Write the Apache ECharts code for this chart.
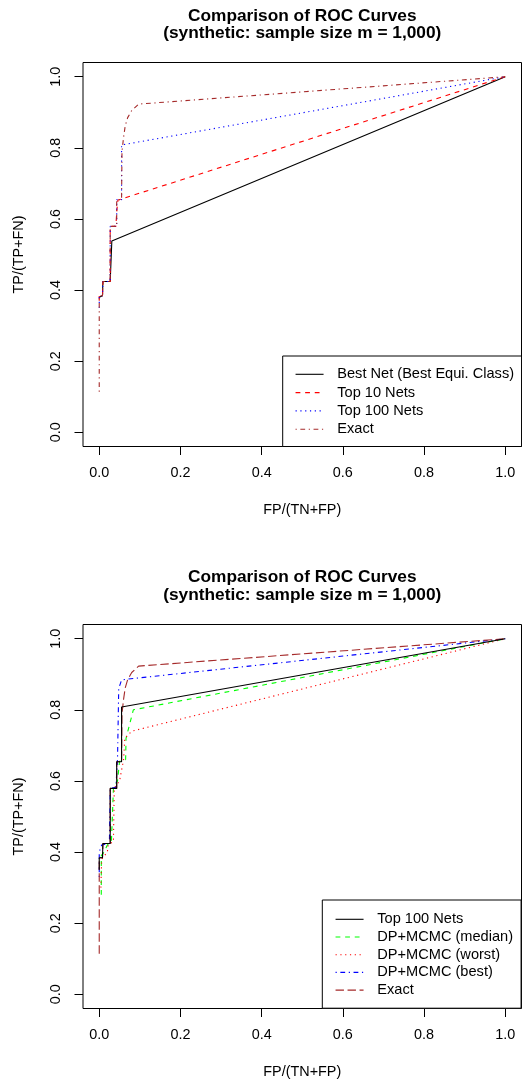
<!DOCTYPE html>
<html>
<head>
<meta charset="utf-8">
<script src="https://cdn.jsdelivr.net/npm/echarts@6/dist/echarts.min.js"></script>
<style>
  html, body { margin: 0; padding: 0; background: #fff; }
  #chart { width: 522px; height: 1084px; }
</style>
</head>
<body>
<div id="chart"></div>
<script>
// Text
const titleLines = ['Comparison of ROC Curves', '(synthetic: sample size m = 1,000)'];
const xLabel = 'FP/(TN+FP)';
const yLabel = 'TP/(TP+FN)';
const tickValues = [0, 0.2, 0.4, 0.6, 0.8, 1.0];

// ROC points as [FP rate, TP rate]
const exact = [[0, 0.114], [0, 0.384], [0.008, 0.384], [0.009, 0.424], [0.027, 0.424], [0.027, 0.579],
  [0.043, 0.579], [0.043, 0.654], [0.055, 0.654], [0.056, 0.79], [0.06, 0.83], [0.064, 0.862],
  [0.07, 0.885], [0.08, 0.905], [0.097, 0.923], [1, 1]];
const top100 = [[0, 0.35], [0, 0.384], [0.008, 0.384], [0.009, 0.424], [0.027, 0.424], [0.027, 0.579],
  [0.043, 0.579], [0.043, 0.654], [0.055, 0.654], [0.055, 0.808], [1, 1]];
const bestNet = [[0, 0.38], [0, 0.384], [0.008, 0.384], [0.009, 0.424], [0.027, 0.424], [0.031, 0.538], [1, 1]];
const top10 = [[0, 0.37], [0, 0.384], [0.008, 0.384], [0.009, 0.424], [0.027, 0.424], [0.027, 0.579],
  [0.041, 0.579], [0.043, 0.62], [0.046, 0.653], [1, 1]];
const mcmcBest = [[0, 0.33], [0, 0.40], [0.006, 0.42], [0.025, 0.424], [0.027, 0.579], [0.041, 0.582],
  [0.045, 0.66], [0.048, 0.86], [0.055, 0.884], [0.067, 0.886], [1, 1]];
const mcmcMedian = [[0.005, 0.28], [0.005, 0.39], [0.012, 0.40], [0.02, 0.42], [0.03, 0.43], [0.035, 0.58],
  [0.045, 0.60], [0.05, 0.655], [0.065, 0.66], [0.066, 0.72], [0.084, 0.80], [1, 1]];
const mcmcWorst = [[0.004, 0.30], [0.006, 0.38], [0.02, 0.40], [0.022, 0.42], [0.035, 0.43], [0.037, 0.58],
  [0.05, 0.60], [0.06, 0.66], [0.063, 0.72], [0.08, 0.74], [1, 1]];

const upperNames = ['Best Net (Best Equi. Class)', 'Top 10 Nets', 'Top 100 Nets', 'Exact'];
const lowerNames = ['Top 100 Nets', 'DP+MCMC (median)', 'DP+MCMC (worst)', 'DP+MCMC (best)', 'Exact'];

const FONT = '"Liberation Sans", Arial, Helvetica, sans-serif';
const u = 1.2; // dash unit
const DASH = {
  solid: 'solid',
  dashed: [4 * u, 4 * u],
  dotted: [1 * u, 3 * u],
  dotdash: [1 * u, 3 * u, 4 * u, 3 * u],
  longdash: [7 * u, 3 * u]
};

const chart = echarts.init(document.getElementById('chart'), null, { renderer: 'canvas' });

function grid(top) {
  return { left: 83, right: 0.5, top: top, height: 384, show: true, borderColor: '#000', borderWidth: 1,
    backgroundColor: 'transparent', containLabel: false };
}

function axisCommon(gridIndex) {
  return {
    gridIndex: gridIndex,
    type: 'value',
    min: -0.04,
    max: 1.04,
    axisLine: { show: false, onZero: false },
    splitLine: { show: false },
    axisTick: { show: true, inside: false, customValues: tickValues, length: 8.5, lineStyle: { color: '#000', width: 1 } },
    axisLabel: { customValues: tickValues, formatter: v => v.toFixed(1), margin: 20,
      fontSize: 14.4, color: '#000', fontFamily: FONT },
    nameLocation: 'middle',
    nameGap: 56.5,
    nameTextStyle: { fontSize: 14.4, color: '#000', fontFamily: FONT }
  };
}

function xAxis(gi) { return Object.assign(axisCommon(gi), { name: xLabel, position: 'bottom' }); }
function yAxis(gi) {
  const a = Object.assign(axisCommon(gi), { name: yLabel, position: 'left' });
  a.axisLabel = Object.assign({}, a.axisLabel, { rotate: 90 });
  return a;
}

function line(key, label, gi, data, color, dash) {
  return {
    type: 'line', name: key + label, xAxisIndex: gi, yAxisIndex: gi, data: data,
    symbol: 'none', showSymbol: false, animation: false, silent: true,
    lineStyle: { color: color, width: 1.1, type: dash },
    itemStyle: { color: color }
  };
}

function title(top) {
  return {
    text: titleLines.join('\n'), left: 302.25, top: top, textAlign: 'center', padding: 0,
    textStyle: { fontSize: 17.3, fontWeight: 'bold', color: '#000', lineHeight: 17.5, fontFamily: FONT }
  };
}

function legend(keyed, left, top, padding, gap) {
  return {
    data: keyed, left: left, top: top, orient: 'vertical', padding: padding,
    itemWidth: 28, itemHeight: 14, itemGap: gap, selectedMode: false,
    borderColor: '#000', borderWidth: 1, borderRadius: 0, backgroundColor: '#fff',
    itemStyle: { opacity: 0 },
    lineStyle: { width: 1.1 },
    formatter: n => n.slice(2),
    textStyle: { fontSize: 14.6, color: '#000', fontFamily: FONT, lineHeight: 16, padding: [0, 0, 0, 8.7] }
  };
}

const upperSeries = [
  line('A:', upperNames[0], 0, bestNet, '#000000', DASH.solid),
  line('A:', upperNames[1], 0, top10, '#FF0000', DASH.dashed),
  line('A:', upperNames[2], 0, top100, '#0000FF', DASH.dotted),
  line('A:', upperNames[3], 0, exact, '#A52A2A', DASH.dotdash)
];
const lowerSeries = [
  line('B:', lowerNames[1], 1, mcmcMedian, '#00FF00', DASH.dashed),
  line('B:', lowerNames[2], 1, mcmcWorst, '#FF0000', DASH.dotted),
  line('B:', lowerNames[3], 1, mcmcBest, '#0000FF', DASH.dotdash),
  line('B:', lowerNames[4], 1, exact, '#A52A2A', DASH.longdash),
  line('B:', lowerNames[0], 1, top100, '#000000', DASH.solid)
];

chart.setOption({
  backgroundColor: '#fff',
  animation: false,
  textStyle: { fontFamily: FONT },
  title: [title(7), title(568.8)],
  grid: [grid(62.5), grid(624.5)],
  xAxis: [xAxis(0), xAxis(1)],
  yAxis: [yAxis(0), yAxis(1)],
  legend: [
    legend(upperNames.map(n => 'A:' + n), 282.7, 356, [10.3, 7.5, 9.3, 12.3], 2.3),
    legend(lowerNames.map(n => 'B:' + n), 322.3, 900, [11.3, 8, 10.1, 12.7], 1.7)
  ],
  series: upperSeries.concat(lowerSeries)
});
</script>
</body>
</html>
